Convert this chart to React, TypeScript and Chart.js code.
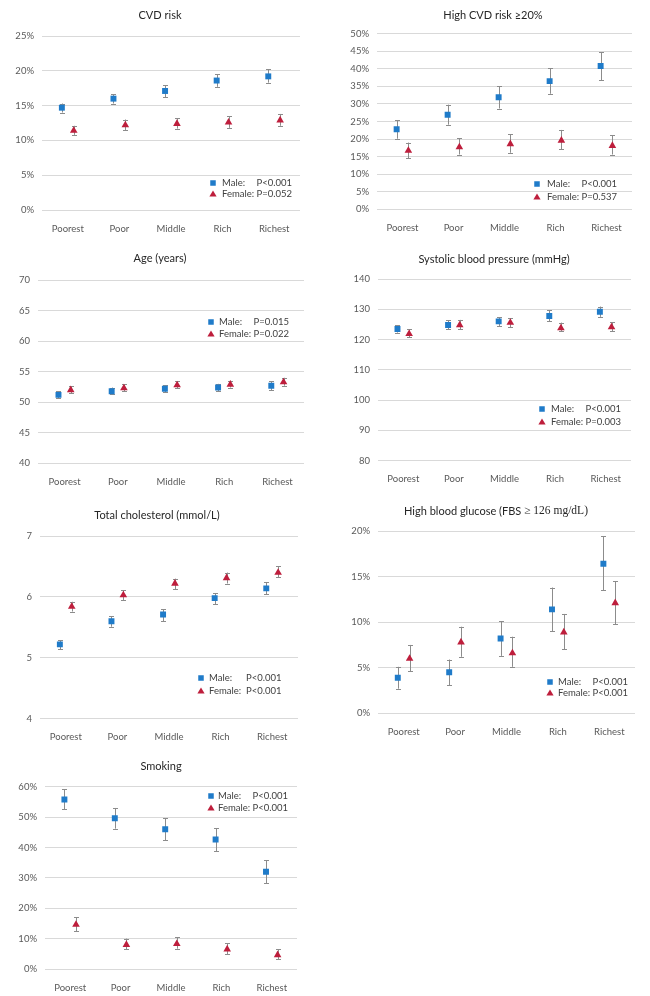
import React, { useEffect, useRef } from 'react';
import { Chart, registerables } from 'chart.js';

Chart.register(...registerables);

// ---------- data ----------
const categories = ['Poorest', 'Poor', 'Middle', 'Rich', 'Richest'];

// CVD risk (%)
const cvdMale = [14.7, 16.0, 17.1, 18.6, 19.2];
const cvdMaleLow = [14.0, 15.3, 16.2, 17.7, 18.3];
const cvdMaleHigh = [15.3, 16.6, 17.9, 19.5, 20.2];
const cvdFemale = [11.4, 12.2, 12.4, 12.6, 12.9];
const cvdFemaleLow = [10.8, 11.5, 11.7, 11.8, 12.1];
const cvdFemaleHigh = [12.1, 13.0, 13.2, 13.5, 13.8];

// High CVD risk >=20% (%)
const highCvdMale = [22.8, 26.9, 31.9, 36.5, 40.8];
const highCvdMaleLow = [20.1, 24.1, 28.7, 32.9, 36.8];
const highCvdMaleHigh = [25.3, 29.8, 35.1, 40.1, 44.7];
const highCvdFemale = [16.7, 17.7, 18.6, 19.6, 18.1];
const highCvdFemaleLow = [14.6, 15.6, 16.1, 17.1, 15.6];
const highCvdFemaleHigh = [19.0, 20.3, 21.3, 22.6, 21.1];

// Age (years)
const ageMale = [51.2, 51.8, 52.2, 52.4, 52.7];
const ageMaleLow = [50.7, 51.3, 51.6, 51.8, 52.0];
const ageMaleHigh = [51.8, 52.4, 52.8, 53.0, 53.4];
const ageFemale = [52.0, 52.3, 52.8, 52.9, 53.3];
const ageFemaleLow = [51.5, 51.8, 52.3, 52.4, 52.7];
const ageFemaleHigh = [52.6, 52.9, 53.4, 53.5, 54.0];

// Systolic blood pressure (mmHg)
const sbpMale = [123.5, 124.8, 126.0, 127.8, 129.2];
const sbpMaleLow = [122.3, 123.4, 124.5, 126.0, 127.5];
const sbpMaleHigh = [124.7, 126.4, 127.4, 129.6, 130.9];
const sbpFemale = [121.9, 124.8, 125.6, 123.8, 124.1];
const sbpFemaleLow = [120.7, 123.4, 124.1, 122.7, 122.7];
const sbpFemaleHigh = [123.4, 126.5, 127.1, 125.6, 125.8];

// Total cholesterol (mmol/L)
const cholMale = [5.22, 5.6, 5.71, 5.98, 6.14];
const cholMaleLow = [5.14, 5.51, 5.6, 5.88, 6.04];
const cholMaleHigh = [5.29, 5.68, 5.8, 6.06, 6.24];
const cholFemale = [5.84, 6.03, 6.22, 6.31, 6.4];
const cholFemaleLow = [5.76, 5.95, 6.13, 6.22, 6.32];
const cholFemaleHigh = [5.92, 6.11, 6.3, 6.4, 6.5];

// High blood glucose (%)
const gluMale = [3.9, 4.5, 8.2, 11.4, 16.4];
const gluMaleLow = [2.7, 3.1, 6.3, 9.0, 13.5];
const gluMaleHigh = [5.1, 5.9, 10.1, 13.8, 19.4];
const gluFemale = [6.0, 7.8, 6.6, 8.9, 12.1];
const gluFemaleLow = [4.6, 6.2, 5.1, 7.0, 9.8];
const gluFemaleHigh = [7.5, 9.5, 8.4, 10.9, 14.5];

// Smoking (%)
const smkMale = [55.8, 49.6, 46.0, 42.6, 32.0];
const smkMaleLow = [52.6, 46.2, 42.3, 38.8, 28.2];
const smkMaleHigh = [59.1, 53.0, 49.6, 46.3, 35.8];
const smkFemale = [14.6, 8.0, 8.3, 6.5, 4.6];
const smkFemaleLow = [12.5, 6.5, 6.7, 4.8, 3.2];
const smkFemaleHigh = [17.0, 10.0, 10.4, 8.4, 6.5];

// p-values
const pMale = ['P<0.001', 'P<0.001', 'P=0.015', 'P<0.001', 'P<0.001', 'P<0.001', 'P<0.001'];
const pFemale = ['P=0.052', 'P=0.537', 'P=0.022', 'P=0.003', 'P<0.001', 'P<0.001', 'P<0.001'];

// ---------- style ----------
const SANS = 'Lato, "Open Sans", sans-serif';
const SERIF = '"Liberation Serif", "DejaVu Serif", serif';
const BLUE = '#1F7BC9';
const RED = '#BE1E3C';
const ERR = '#8C8C8C';
const GRID = '#D9D9D9';
const TICK = '#595959';
const TEXT = '#404040';
const OFF = 0.115;
const XH = 22;

type Seg = { text: string; font: string };
type Panel = {
  title: Seg[];
  box: [number, number, number, number];
  area: [number, number, number, number];
  titleXY: [number, number];
  leg: [number, number, number, number, number];
  yMin: number; yMax: number; yStep: number; pct: boolean;
  m: number[]; mL: number[]; mH: number[];
  f: number[]; fL: number[]; fH: number[];
  pm: string; pf: string;
};

const TF = `11px ${SANS}`;

const panels: Panel[] = [
  {
    title: [{ text: 'CVD risk', font: TF }],
    box: [0, 0, 325, 240], area: [42, 36, 300, 210], titleXY: [160, 15],
    leg: [213, 222, 255, 183, 194],
    yMin: 0, yMax: 25, yStep: 5, pct: true,
    m: cvdMale, mL: cvdMaleLow, mH: cvdMaleHigh, f: cvdFemale, fL: cvdFemaleLow, fH: cvdFemaleHigh,
    pm: pMale[0], pf: pFemale[0],
  },
  {
    title: [{ text: 'High CVD risk \u226520%', font: TF }],
    box: [325, 0, 325, 240], area: [52, 33.7, 307, 209.3], titleXY: [168, 15],
    leg: [212, 222, 256, 184, 197],
    yMin: 0, yMax: 50, yStep: 5, pct: true,
    m: highCvdMale, mL: highCvdMaleLow, mH: highCvdMaleHigh, f: highCvdFemale, fL: highCvdFemaleLow, fH: highCvdFemaleHigh,
    pm: pMale[1], pf: pFemale[1],
  },
  {
    title: [{ text: 'Age (years)', font: TF }],
    box: [0, 240, 325, 250], area: [38, 40, 304, 223.3], titleXY: [160, 18],
    leg: [211, 219, 253, 82, 94],
    yMin: 40, yMax: 70, yStep: 5, pct: false,
    m: ageMale, mL: ageMaleLow, mH: ageMaleHigh, f: ageFemale, fL: ageFemaleLow, fH: ageFemaleHigh,
    pm: pMale[2], pf: pFemale[2],
  },
  {
    title: [{ text: 'Systolic blood pressure (mmHg)', font: TF }],
    box: [325, 240, 325, 250], area: [53, 39, 306, 220.7], titleXY: [169, 19],
    leg: [217, 226, 259, 169, 182],
    yMin: 80, yMax: 140, yStep: 10, pct: false,
    m: sbpMale, mL: sbpMaleLow, mH: sbpMaleHigh, f: sbpFemale, fL: sbpFemaleLow, fH: sbpFemaleHigh,
    pm: pMale[3], pf: pFemale[3],
  },
  {
    title: [{ text: 'Total cholesterol (mmol/L)', font: TF }],
    box: [0, 480, 325, 265], area: [40, 56, 298, 238.7], titleXY: [157, 35],
    leg: [201, 209, 246, 198, 211],
    yMin: 4, yMax: 7, yStep: 1, pct: false,
    m: cholMale, mL: cholMaleLow, mH: cholMaleHigh, f: cholFemale, fL: cholFemaleLow, fH: cholFemaleHigh,
    pm: pMale[4], pf: pFemale[4],
  },
  {
    title: [
      { text: 'High blood glucose (FBS ', font: TF },
      { text: '\u2265 126 mg/dL)', font: `11.5px ${SERIF}` },
    ],
    box: [325, 480, 325, 265], area: [53, 51, 310, 233.3], titleXY: [171, 31],
    leg: [225, 233, 265, 202, 213],
    yMin: 0, yMax: 20, yStep: 5, pct: true,
    m: gluMale, mL: gluMaleLow, mH: gluMaleHigh, f: gluFemale, fL: gluFemaleLow, fH: gluFemaleHigh,
    pm: pMale[5], pf: pFemale[5],
  },
  {
    title: [{ text: 'Smoking', font: TF }],
    box: [0, 735, 325, 261], area: [45, 51.7, 297, 234], titleXY: [161, 31],
    leg: [211, 218, 252, 61, 73],
    yMin: 0, yMax: 60, yStep: 10, pct: true,
    m: smkMale, mL: smkMaleLow, mH: smkMaleHigh, f: smkFemale, fL: smkFemaleLow, fH: smkFemaleHigh,
    pm: pMale[6], pf: pFemale[6],
  },
];

const decor = {
  id: 'decor',
  beforeDatasetsDraw(chart: any) {
    const ctx = chart.ctx;
    const ys = chart.scales.y;
    ctx.save();
    ctx.strokeStyle = ERR;
    ctx.lineWidth = 1;
    chart.data.datasets.forEach((ds: any, di: number) => {
      const meta = chart.getDatasetMeta(di);
      meta.data.forEach((pt: any, i: number) => {
        const x = Math.round(pt.x) + 0.5;
        const y1 = ys.getPixelForValue(ds.errLow[i]);
        const y2 = ys.getPixelForValue(ds.errHigh[i]);
        ctx.beginPath();
        ctx.moveTo(x, y1); ctx.lineTo(x, y2);
        ctx.moveTo(x - 2.5, Math.round(y1) + 0.5); ctx.lineTo(x + 2.5, Math.round(y1) + 0.5);
        ctx.moveTo(x - 2.5, Math.round(y2) + 0.5); ctx.lineTo(x + 2.5, Math.round(y2) + 0.5);
        ctx.stroke();
      });
    });
    ctx.restore();
  },
  afterDraw(chart: any, _a: any, opts: any) {
    const ctx = chart.ctx;
    const p: Panel = opts.panel;
    ctx.save();
    // title
    ctx.fillStyle = '#262626';
    ctx.textBaseline = 'middle';
    ctx.textAlign = 'left';
    let total = 0;
    p.title.forEach((s) => { ctx.font = s.font; total += ctx.measureText(s.text).width; });
    let x = p.titleXY[0] - total / 2;
    p.title.forEach((s) => {
      ctx.font = s.font;
      ctx.fillText(s.text, x, p.titleXY[1]);
      x += ctx.measureText(s.text).width;
    });
    // legend
    const [mx, tx, pxRef, ly1, ly2] = p.leg;
    ctx.fillStyle = BLUE;
    ctx.fillRect(mx - 2.75, ly1 - 2.75, 5.5, 5.5);
    ctx.fillStyle = RED;
    ctx.beginPath();
    ctx.moveTo(mx, ly2 - 3.6);
    ctx.lineTo(mx + 3.6, ly2 + 2.6);
    ctx.lineTo(mx - 3.6, ly2 + 2.6);
    ctx.closePath();
    ctx.fill();
    ctx.fillStyle = TEXT;
    ctx.font = `9.5px ${SANS}`;
    const px = Math.max(pxRef, tx + ctx.measureText('Female: ').width);
    ctx.fillText('Male:', tx, ly1);
    ctx.fillText(p.pm, px, ly1);
    ctx.fillText('Female:', tx, ly2);
    ctx.fillText(p.pf, px, ly2);
    ctx.restore();
  },
};

function PanelChart({ p }: { p: Panel }) {
  const ref = useRef<HTMLCanvasElement | null>(null);
  useEffect(() => {
    const [, , w, h] = p.box;
    const [aL, aT, aR, aB] = p.area;
    const chart = new Chart(ref.current as HTMLCanvasElement, {
      type: 'scatter',
      data: {
        datasets: [
          {
            label: 'Male',
            data: p.m.map((v, i) => ({ x: i - OFF, y: v })),
            pointStyle: 'rect',
            pointRadius: 4.2,
            pointHoverRadius: 4.2,
            backgroundColor: BLUE,
            borderColor: BLUE,
            borderWidth: 0,
            errLow: p.mL,
            errHigh: p.mH,
          } as any,
          {
            label: 'Female',
            data: p.f.map((v, i) => ({ x: i + OFF, y: v })),
            pointStyle: 'triangle',
            pointRadius: 4.4,
            pointHoverRadius: 4.4,
            backgroundColor: RED,
            borderColor: RED,
            borderWidth: 0,
            errLow: p.fL,
            errHigh: p.fH,
          } as any,
        ],
      },
      options: {
        animation: false,
        responsive: false,
        maintainAspectRatio: false,
        events: [],
        layout: { padding: { top: aT, left: 0, right: w - aR, bottom: h - aB - XH } },
        plugins: {
          legend: { display: false },
          tooltip: { enabled: false },
          title: { display: false },
          decor: { panel: p },
        } as any,
        scales: {
          x: {
            type: 'linear',
            min: -0.5,
            max: 4.5,
            grid: { display: false },
            border: { display: false },
            ticks: {
              autoSkip: false,
              maxRotation: 0,
              padding: 5,
              color: TICK,
              font: { family: SANS, size: 9.5 },
              callback: (v: any) => categories[v] ?? '',
            },
            afterBuildTicks: (s: any) => { s.ticks = categories.map((_, i) => ({ value: i })); },
            afterFit: (s: any) => { s.height = XH; },
          },
          y: {
            min: p.yMin,
            max: p.yMax,
            grid: { color: GRID, drawTicks: false, lineWidth: 1 },
            border: { display: false },
            ticks: {
              stepSize: p.yStep,
              padding: 8,
              color: TICK,
              font: { family: SANS, size: 9.5 },
              callback: (v: any) => (p.pct ? `${v}%` : `${v}`),
            },
            afterFit: (s: any) => { s.width = aL; },
          },
        },
      } as any,
      plugins: [decor as any],
    });
    return () => chart.destroy();
  }, [p]);
  const [l, t, w, h] = p.box;
  return (
    <canvas
      ref={ref}
      width={w}
      height={h}
      style={{ position: 'absolute', left: l, top: t, width: w, height: h }}
    />
  );
}

export default function App() {
  return (
    <div style={{ position: 'absolute', left: 0, top: 0, width: 650, height: 996, background: '#fff', overflow: 'hidden' }}>
      {panels.map((p, i) => (
        <PanelChart key={i} p={p} />
      ))}
    </div>
  );
}
